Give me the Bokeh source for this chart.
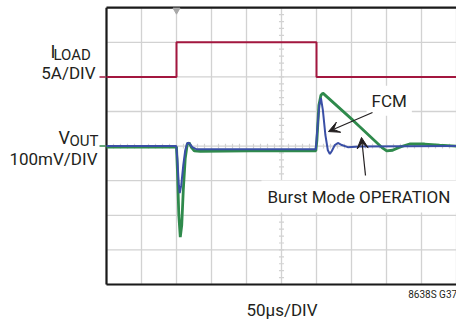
from bokeh.plotting import figure
from bokeh.models import Range1d, Label, Arrow, VeeHead
from bokeh.embed import file_html
from bokeh.resources import INLINE

# ---- data (time in µs, 50 µs/DIV) ----
load_t = [0, 100, 100, 300, 300, 500]
load_a = [0, 0, 5, 5, 0, 0]          # ILOAD, A (5 A/DIV)

burst_t = [0, 100, 101.3, 103.3, 105.4, 107.5, 109.7, 112.5, 115.4, 118.2, 121.1, 125.4,
           134, 205, 299, 300.6, 303.4, 306.3, 309.1, 351.9, 394.6, 400.3, 408.8, 418.8,
           433, 454.4, 475.8, 500]
burst_mv = [-3, -3, -69, -199, -263, -228, -127, -35, 6, 9, -3, -14,
            -15, -14, -14, 17, 118, 147, 153, 75, -6, -14, -12, -3,
            6, 6, 3, 0]                # VOUT Burst Mode, mV (100 mV/DIV)

fcm_t = [0, 99.7, 101.3, 103.3, 104.6, 106.8, 109.7, 112.5, 115.4, 118.2, 122.5, 128.2,
         299, 301.1, 304, 306.3, 309.1, 312.7, 316.2, 319.1, 321.9, 326.2, 330.5, 336.2,
         344.7, 361.8, 500]
fcm_mv = [0, 0, -40, -113, -136, -113, -55, -12, 9, 9, -3, -9,
          -9, 46, 118, 139, 104, 32, -12, -23, -14, 3, 9, 3,
          -3, -1, 0]                   # VOUT FCM, mV

x_ticks = [0, 50, 100, 150, 200, 250, 300, 350, 400, 450, 500]   # 10 DIV
y_ticks = [0, 1, 2, 3, 4, 5, 6, 7, 8]                            # 8 DIV

FONT = "Roboto"
TXT = "#231f20"
RED = "#a3173f"
BLUE = "#3a4fa6"
GREEN = "#2f8a4c"
GRID = "#d2d2d2"
FRAME = "#1a1a1a"

W, H = 456, 320
# scope area: left edge 106px, bottom 284px, 35 px/DIV horizontally, 34.6 px/DIV vertically
x0 = -106 / 35 * 50
x1 = (W - 106) / 35 * 50
y0 = -(H - 284) / 34.6
y1 = 284 / 34.6

p = figure(width=W, height=H, output_backend="svg", toolbar_location=None,
           x_range=Range1d(x0, x1), y_range=Range1d(y0, y1),
           x_axis_location=None, y_axis_location=None, min_border=0)
p.extra_y_ranges = {"iload": Range1d((y0 - 6) * 5, (y1 - 6) * 5),
                    "vout": Range1d((y0 - 4) * 100, (y1 - 4) * 100)}
p.outline_line_color = None
p.xgrid.visible = False
p.ygrid.visible = False
p.background_fill_color = "white"
p.border_fill_color = "white"

# graticule
p.segment(x0=x_ticks, y0=[0] * len(x_ticks), x1=x_ticks, y1=[8] * len(x_ticks),
          line_color=GRID, line_width=1.3)
p.segment(x0=[0] * len(y_ticks), y0=y_ticks, x1=[500] * len(y_ticks), y1=y_ticks,
          line_color=GRID, line_width=1.3)
# minor ticks on the centre lines
mx = [i * 10 for i in range(0, 51)]
p.segment(x0=mx, y0=[4 - 0.07] * len(mx), x1=mx, y1=[4 + 0.07] * len(mx),
          line_color=GRID, line_width=1.2)
my = [i * 0.2 for i in range(0, 41)]
p.segment(x0=[250 - 3.6] * len(my), y0=my, x1=[250 + 3.6] * len(my), y1=my,
          line_color=GRID, line_width=1.2)
# frame (left, bottom, top)
p.segment(x0=[0, 0, 0], y0=[0, 0, 8], x1=[0, 500, 500], y1=[8, 0, 8],
          line_color=FRAME, line_width=2.2)

# channel markers left of the scope area
p.segment(x0=[-10], y0=[0], x1=[-1.5], y1=[0], y_range_name="iload", line_color=RED, line_width=1.5)
p.segment(x0=[-10], y0=[0], x1=[-1.5], y1=[0], y_range_name="vout", line_color=GREEN, line_width=1.5)

# trigger marker
p.scatter([100], [7.93], marker="inverted_triangle", size=7, color="#a8a8a8")

# traces
p.line(load_t, load_a, y_range_name="iload", line_color=RED, line_width=2)
p.line(burst_t, burst_mv, y_range_name="vout", line_color=GREEN, line_width=2.8)
p.line(fcm_t, fcm_mv, y_range_name="vout", line_color=BLUE, line_width=2)


def lab(x, y, text, size="17px", align="left", bg=None, pad=0):
    kw = dict(x=x, y=y, text=text, text_font=FONT, text_font_size=size, text_color=TXT,
              text_align=align, text_baseline="alphabetic")
    if bg:
        kw.update(background_fill_color=bg, padding=pad)
    p.add_layout(Label(**kw))


lab(-80, 6.74, "I", size="18px")
lab(-75.7, 6.62, "LOAD", size="15px")
lab(-15.7, 6.12, "5A/DIV", align="right")
lab(-68.6, 4.26, "V", size="18px")
lab(-52.9, 4.16, "OUT", size="15px")
lab(-12.9, 3.64, "100mV/DIV", align="right")
lab(371.5, 5.31, "FCM", bg="white", pad=5)
lab(221.4, 2.54, "Burst Mode OPERATION", bg="white", pad=6)
lab(250.7, -0.75, "50µs/DIV", align="center")
lab(431, -0.3, "8638S G37", size="10px")

# arrows
p.add_layout(Arrow(end=VeeHead(size=11, fill_color=TXT, line_color=TXT),
                   x_start=380, y_start=4.97, x_end=317.1, y_end=4.42,
                   line_color=TXT, line_width=1.2))
p.add_layout(Arrow(end=VeeHead(size=11, fill_color=TXT, line_color=TXT),
                   x_start=370, y_start=3.15, x_end=364.3, y_end=4.25,
                   line_color=TXT, line_width=1.2))

open("out.html", "w").write(file_html(p, INLINE))
